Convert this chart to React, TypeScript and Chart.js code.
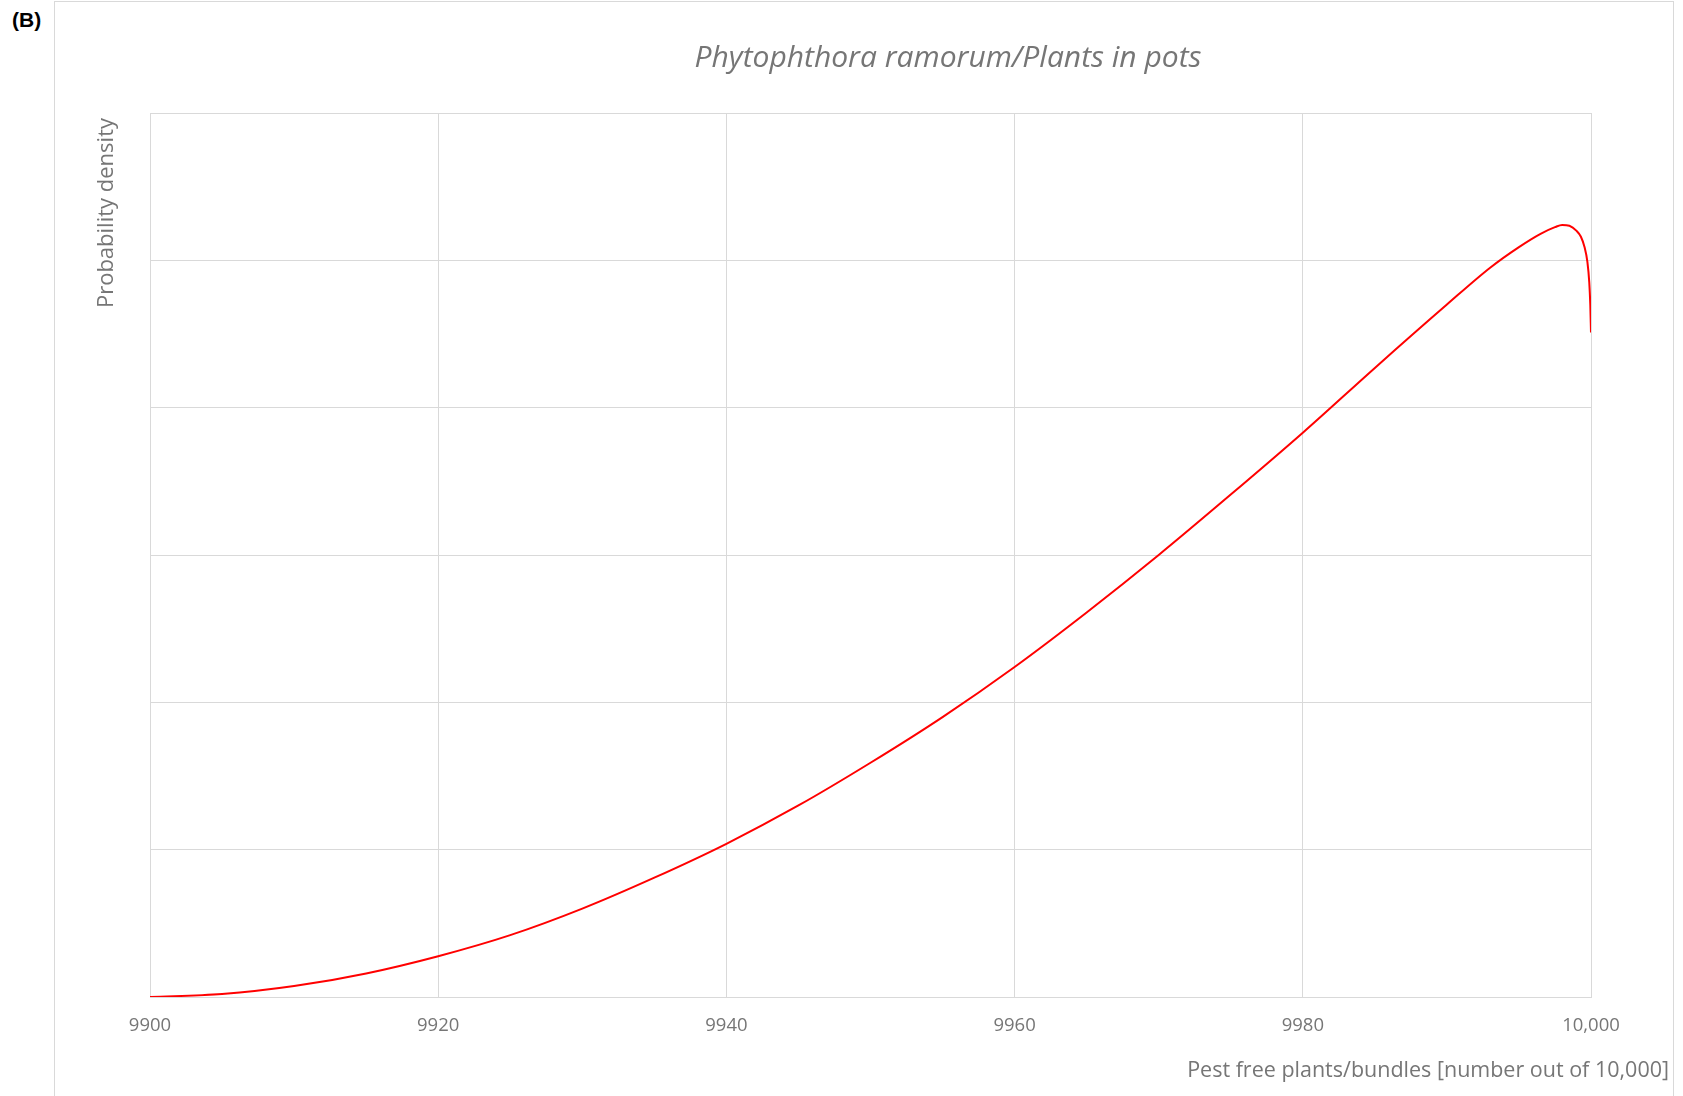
import React, { useEffect, useRef } from "react";
import { Chart, registerables } from "chart.js";

Chart.register(...registerables);

// ---- data ----
const pestFreeCounts = [
  9900, 9905, 9910, 9915, 9920, 9925, 9930, 9935, 9940, 9945, 9950, 9955, 9960,
  9965, 9970, 9975, 9980, 9985, 9990, 9993, 9995, 9996.5, 9997.5, 9998, 9998.5,
  9999, 9999.3, 9999.55, 9999.75, 9999.88, 9999.95, 10000,
];
const densityValues = [
  0, 0.02, 0.074, 0.16, 0.277, 0.42, 0.6, 0.81, 1.04, 1.3, 1.59, 1.9, 2.24,
  2.61, 3.0, 3.41, 3.83, 4.27, 4.7, 4.95, 5.09, 5.18, 5.225, 5.24, 5.235, 5.2,
  5.16, 5.09, 4.99, 4.85, 4.7, 4.51,
];
const xTickValues = [9900, 9920, 9940, 9960, 9980, 10000];
const xTickLabels = ["9900", "9920", "9940", "9960", "9980", "10,000"];
const chartTitle = "Phytophthora ramorum/Plants in pots";
const yAxisTitle = "Probability density";
const xAxisTitle = "Pest free plants/bundles [number out of 10,000]";
const panelLabel = "(B)";

const GRID = "#d9d9d9";
const TEXT = "#767676";

const textPlugin = {
  id: "panelTexts",
  afterDraw(chart: any) {
    const { ctx, chartArea } = chart;
    ctx.save();
    ctx.fillStyle = TEXT;
    ctx.textBaseline = "middle";

    ctx.font = 'italic 30px "Open Sans"';
    ctx.textAlign = "center";
    ctx.fillText(chartTitle, 948, 58);

    ctx.font = '21.5px "Open Sans"';
    ctx.textAlign = "right";
    ctx.fillText(xAxisTitle, 1669, 1071);

    ctx.font = '22px "Open Sans"';
    ctx.translate(107, chartArea.top + 5);
    ctx.rotate(-Math.PI / 2);
    ctx.textAlign = "right";
    ctx.fillText(yAxisTitle, 0, 0);
    ctx.restore();
  },
};

export default function App() {
  const canvasRef = useRef<HTMLCanvasElement | null>(null);

  useEffect(() => {
    const canvas = canvasRef.current;
    if (!canvas) return;
    const chart = new Chart(canvas, {
      type: "line",
      data: {
        datasets: [
          {
            data: pestFreeCounts.map((x, i) => ({ x, y: densityValues[i] })),
            borderColor: "#ff0000",
            borderWidth: 2,
            pointRadius: 0,
            fill: false,
            tension: 0,
            cubicInterpolationMode: "monotone",
          },
        ],
      },
      options: {
        responsive: false,
        animation: false,
        layout: { padding: { left: 0, top: 113, right: 92, bottom: 0 } },
        plugins: {
          legend: { display: false },
          title: { display: false },
          tooltip: { enabled: false },
        },
        scales: {
          x: {
            type: "linear",
            min: 9900,
            max: 10000,
            afterBuildTicks: (scale: any) => {
              scale.ticks = xTickValues.map((v) => ({ value: v }));
            },
            afterFit: (scale: any) => {
              scale.height = 99;
            },
            ticks: {
              color: TEXT,
              font: { family: "Open Sans", size: 18.5 },
              padding: 18,
              maxRotation: 0,
              callback: (v: any) => {
                const i = xTickValues.indexOf(Number(v));
                return i >= 0 ? xTickLabels[i] : "";
              },
            },
            grid: { color: GRID, lineWidth: 1, drawTicks: false },
            border: { color: GRID, width: 1 },
          },
          y: {
            type: "linear",
            min: 0,
            max: 6,
            afterFit: (scale: any) => {
              scale.width = 150;
            },
            ticks: { display: false, stepSize: 1 },
            grid: { color: GRID, lineWidth: 1, drawTicks: false },
            border: { color: GRID, width: 1 },
          },
        },
      },
      plugins: [textPlugin],
    });
    return () => chart.destroy();
  }, []);

  return (
    <div
      style={{
        position: "fixed",
        left: 0,
        top: 0,
        width: 1683,
        height: 1096,
        background: "#ffffff",
        overflow: "hidden",
      }}
    >
      <div
        style={{
          position: "absolute",
          left: 12,
          top: 8,
          fontFamily: '"Liberation Sans", Arial, sans-serif',
          fontWeight: "bold",
          fontSize: 21,
          color: "#000",
          lineHeight: "24px",
        }}
      >
        {panelLabel}
      </div>
      <div
        style={{
          position: "absolute",
          left: 54,
          top: 1,
          width: 1620,
          height: 1200,
          border: "1px solid #d9d9d9",
          boxSizing: "border-box",
        }}
      />
      <canvas
        ref={canvasRef}
        width={1683}
        height={1096}
        style={{ position: "absolute", left: 0, top: 0, width: 1683, height: 1096 }}
      />
    </div>
  );
}
